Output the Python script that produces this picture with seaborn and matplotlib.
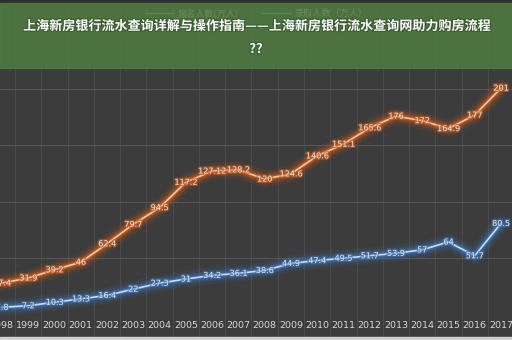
import matplotlib
matplotlib.use("Agg")
import matplotlib.pyplot as plt
import matplotlib.patheffects as pe
from matplotlib.patches import Rectangle
from matplotlib.lines import Line2D
import seaborn as sns
import pandas as pd
import numpy as np

years = ["1998", "1999", "2000", "2001", "2002", "2003", "2004", "2005", "2006", "2007",
         "2008", "2009", "2010", "2011", "2012", "2013", "2014", "2015", "2016", "2017"]
applicants = [27.4, 31.9, 39.2, 46, 62.4, 79.7, 94.5, 117.2, 127.12, 128.2,
              120, 124.6, 140.6, 151.1, 165.6, 176, 172, 164.9, 177, 201]
admitted = [5.8, 7.2, 10.3, 13.3, 16.4, 22, 27.3, 31, 34.2, 36.1,
            38.6, 44.9, 47.4, 49.5, 51.7, 53.9, 57, 64, 51.7, 80.5]
series_names = ["报名人数(万人)", "录取人数（万人）"]
title_line1 = "上海新房银行流水查询详解与操作指南——上海新房银行流水查询网助力购房流程"
title_line2 = "??"

df = pd.DataFrame({"year": years, "x": np.arange(len(years)),
                   series_names[0]: applicants, series_names[1]: admitted})
long = df.melt(id_vars=["year", "x"], var_name="series", value_name="value")

sns.set_theme(style="dark")
plt.rcParams["font.family"] = ["Noto Sans CJK SC", "DejaVu Sans"]

bg = "#3c3c3c"
fig = plt.figure(figsize=(5.12, 3.4), dpi=100, facecolor=bg)
ax = fig.add_axes([0, 0, 1, 1])
ax.set_facecolor(bg)

glow = {series_names[0]: "#c2581f", series_names[1]: "#3d6fae"}
core = {series_names[0]: "#f3c9a2", series_names[1]: "#c9dcf2"}

# glow layers
for lw, a in [(12, 0.12), (8, 0.22), (5, 0.4), (3, 0.7)]:
    sns.lineplot(data=long, x="x", y="value", hue="series", palette=glow,
                 linewidth=lw, alpha=a, ax=ax, legend=False, sort=False)
sns.lineplot(data=long, x="x", y="value", hue="series", palette=core,
             linewidth=1.2, ax=ax, legend=False, sort=False)

for name in series_names:
    for xi, v in zip(df["x"], df[name]):
        lab = f"{v:g}"
        ax.text(xi, v, lab, ha="center", va="center", fontsize=5.8, color="#e2e2e2",
                family=["DejaVu Sans"],
                path_effects=[pe.withStroke(linewidth=2, foreground=glow[name], alpha=0.6)])

# legend (faintly visible through the banner, as in the reference)
handles = [Line2D([], [], color="#d0a070", lw=1), Line2D([], [], color="#a8bccc", lw=1)]
leg = fig.legend(handles, series_names, loc="center", bbox_to_anchor=(0.5, 1 - 13 / 340),
                 ncol=2, frameon=False, fontsize=6.6, handlelength=3.2, columnspacing=2.5,
                 labelcolor="#e8e8e8", borderpad=0, handletextpad=0.4)
leg.set_zorder(5)

ax.set_xticks(np.arange(-0.5, 20, 1), minor=True)
ax.set_xticks(df["x"])
ax.set_xticklabels(years, fontsize=6.8, color="#d8d8d8", family=["DejaVu Sans"])
ax.tick_params(axis="x", which="both", direction="in", length=0, pad=-14)
ax.set_yticks([50, 100, 150, 200])
ax.set_yticklabels([])
ax.tick_params(axis="y", length=0)
ax.grid(False)
ax.grid(which="minor", axis="x", color="#4b4b4b", linewidth=0.8)
ax.grid(which="major", axis="y", color="#555555", linewidth=0.8)
ax.set_xlabel("")
ax.set_ylabel("")
for s in ax.spines.values():
    s.set_visible(False)
ax.set_xlim(-0.076, 19.42)
ax.set_ylim(-23.3, 279.4)

# banner overlay
fig.patches.append(Rectangle((0, 1 - 3 / 340), 1, 3 / 340, transform=fig.transFigure,
                             color="#2e2e2e", zorder=10))
fig.patches.append(Rectangle((0, 1 - 68 / 340), 1, 65 / 340, transform=fig.transFigure,
                             color="#4f7d40", alpha=0.85, zorder=10))
fig.patches.append(Rectangle((0, 0), 1, 3 / 340, transform=fig.transFigure,
                             color="#d0d0d0", zorder=10))
for txt, y in [(title_line1, 1 - 26 / 340), (title_line2, 1 - 49 / 340)]:
    fig.text(0.5, y, txt, ha="center", va="center", fontsize=9.4, fontweight="bold",
             color="white", zorder=11,
             path_effects=[pe.withStroke(linewidth=1.5, foreground="#3a5a30")])

fig.savefig("out.png", dpi=100, facecolor=bg)
